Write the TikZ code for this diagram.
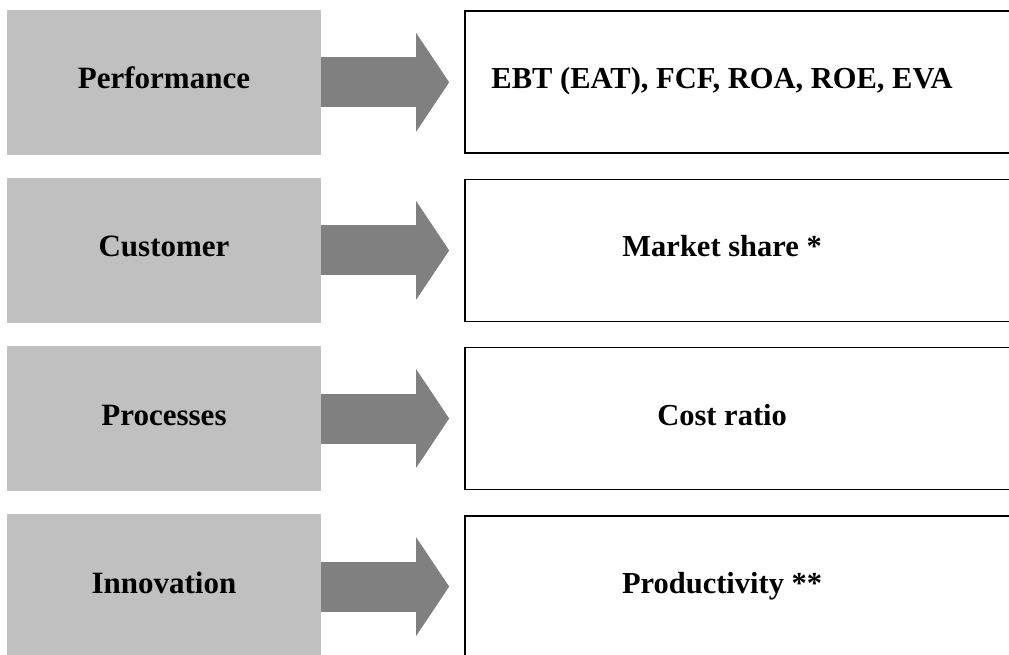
\documentclass[tikz,border=0pt]{standalone}
\usepackage{fontspec}
\setmainfont{Liberation Serif}
\usetikzlibrary{positioning,arrows.meta}
\definecolor{boxgray}{HTML}{C0C0C0}
\definecolor{arrgray}{HTML}{808080}
\tikzset{
  dim/.style={rectangle, minimum width=314pt, minimum height=145pt, text centered, text height=21pt, text depth=8pt, fill=boxgray, font=\fontsize{31}{36}\selectfont\bfseries},
  kpi/.style={rectangle, minimum width=556pt, minimum height=142pt, draw=black, line width=1.8pt},
  kpitxt/.style={text centered, text height=21pt, text depth=8pt, font=\fontsize{30.5}{36}\selectfont\bfseries},
  flow/.style={draw=arrgray, line width=50pt, -{Triangle[length=33pt, width=97pt]}},
  node distance=22.7pt
}

\begin{document}
\begin{tikzpicture}[x=1pt, y=-1pt]
	\useasboundingbox (0,0) rectangle (1009,654);
	\clip (0,0) rectangle (1009,654);

	\node[dim] (perf) at (164,82.3) {Performance};
	\node[dim, below=of perf] (cust) {Customer};
	\node[dim, below=of cust] (proc) {Processes};
	\node[dim, below=of proc] (innov) {Innovation};

	\node[kpi, right=143pt of perf] (ebt) {};
	\node[kpi, right=143pt of cust] (share) {};
	\node[kpi, right=143pt of proc] (cost) {};
	\node[kpi, right=143pt of innov] (prod) {};

	\node[kpitxt] (ebtlbl) at ([xshift=-21pt]ebt.center) {EBT (EAT), FCF, ROA, ROE, EVA};
	\node[kpitxt] (sharelbl) at ([xshift=-21pt]share.center) {Market share *};
	\node[kpitxt] (costlbl) at ([xshift=-21pt]cost.center) {Cost ratio};
	\node[kpitxt] (prodlbl) at ([xshift=-21pt]prod.center) {Productivity **};

	\draw[flow] (perf.east) -- ([xshift=-15pt]ebt.west);
	\draw[flow] (cust.east) -- ([xshift=-15pt]share.west);
	\draw[flow] (proc.east) -- ([xshift=-15pt]cost.west);
	\draw[flow] (innov.east) -- ([xshift=-15pt]prod.west);

\end{tikzpicture}
\end{document}
